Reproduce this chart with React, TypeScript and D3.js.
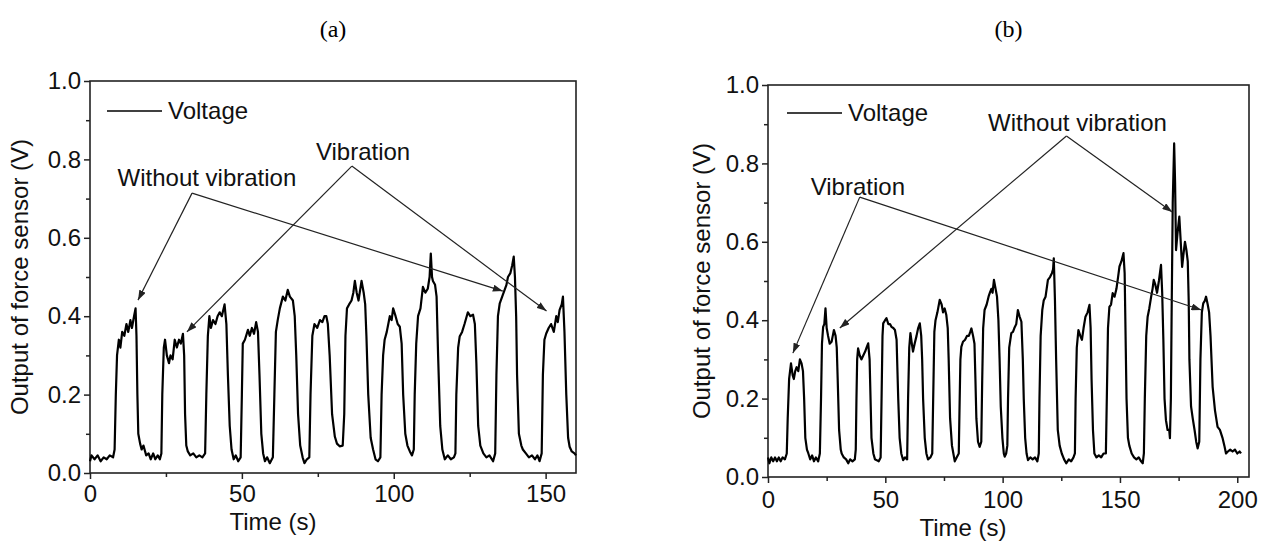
import React, { useEffect, useRef } from 'react';
import * as d3 from 'd3';

type Pt = [number, number];

// force sensor output, panel (a): [time s, voltage V]
const seriesA: Pt[] = [
  [0, 0.03], [0.5, 0.045], [1.5, 0.035], [2.5, 0.045], [3.5, 0.03], [4.5, 0.04], [5.5, 0.035], [6.5, 0.045], [7.6, 0.04],
  [8.1, 0.06], [8.5, 0.2], [8.9, 0.3], [9.5, 0.34], [10, 0.32], [10.6, 0.36], [11.3, 0.35], [12, 0.38], [12.6, 0.36], [13.3, 0.39], [13.8, 0.37], [14.5, 0.4], [15, 0.42], [15.3, 0.35], [15.6, 0.2], [15.9, 0.1], [16.5, 0.075], [17, 0.06], [17.6, 0.07], [18.5, 0.045], [19.3, 0.05], [20, 0.035], [20.8, 0.05], [21.5, 0.035], [22.3, 0.045], [23, 0.035], [23.5, 0.05],
  [23.8, 0.2], [24.3, 0.32], [24.7, 0.34], [25.3, 0.3], [26, 0.28], [26.5, 0.3], [27.2, 0.29], [27.9, 0.34], [28.6, 0.32], [29.3, 0.34], [29.9, 0.33], [30.6, 0.355], [31, 0.3], [31.3, 0.15], [31.7, 0.07], [32.2, 0.055], [33, 0.045], [34, 0.05], [35, 0.04], [36, 0.045], [37, 0.04], [37.9, 0.05],
  [38.3, 0.2], [38.8, 0.35], [39.3, 0.4], [39.8, 0.37], [40.5, 0.39], [41.3, 0.38], [42, 0.4], [42.7, 0.41], [43.4, 0.4], [44.3, 0.43], [44.9, 0.38], [45.4, 0.25], [46, 0.12], [46.6, 0.06], [47.3, 0.035], [48, 0.045], [48.8, 0.03], [49.6, 0.04],
  [50, 0.2], [50.3, 0.33], [51, 0.34], [52, 0.365], [52.6, 0.35], [53.3, 0.37], [54, 0.355], [54.7, 0.385], [55.3, 0.36], [55.8, 0.25], [56.4, 0.1], [57, 0.05], [57.6, 0.03], [58.3, 0.04], [59.2, 0.025], [60.2, 0.04],
  [60.7, 0.2], [61.2, 0.36], [61.8, 0.39], [62.5, 0.42], [63.5, 0.45], [64.3, 0.44], [65.1, 0.467], [65.8, 0.45], [66.8, 0.44], [67.4, 0.4], [67.9, 0.3], [68.5, 0.15], [69.2, 0.07], [70, 0.04], [70.6, 0.025], [71.4, 0.035], [72.2, 0.04],
  [72.6, 0.2], [73.2, 0.35], [73.9, 0.38], [74.8, 0.37], [75.7, 0.39], [76.5, 0.385], [77.2, 0.4], [77.8, 0.4], [78.3, 0.38], [78.9, 0.3], [79.7, 0.15], [80.6, 0.093], [81.3, 0.075], [82.2, 0.068], [83.2, 0.07], [83.7, 0.15],
  [84.1, 0.35], [84.6, 0.42], [85.3, 0.43], [86.1, 0.44], [86.7, 0.46], [87.2, 0.49], [87.8, 0.46], [88.4, 0.44], [89.4, 0.49], [90.1, 0.46], [90.6, 0.43], [91, 0.35], [91.6, 0.2], [92.4, 0.09], [93.2, 0.06], [94, 0.035], [94.8, 0.03], [95.6, 0.04],
  [96, 0.2], [96.5, 0.3], [97, 0.34], [97.7, 0.36], [98.7, 0.4], [99.3, 0.39], [99.8, 0.42], [100.6, 0.4], [101.3, 0.38], [102, 0.373], [102.6, 0.33], [103.1, 0.2], [103.8, 0.1], [104.5, 0.07], [105.3, 0.055], [106, 0.045], [106.6, 0.06],
  [106.9, 0.2], [107.4, 0.33], [108, 0.4], [108.8, 0.42], [109.6, 0.475], [110.4, 0.46], [111.2, 0.47], [111.8, 0.5], [112.2, 0.56], [112.6, 0.5], [112.9, 0.49], [113.6, 0.48], [114.1, 0.45], [114.6, 0.3], [115.3, 0.12], [116, 0.06], [116.8, 0.035], [117.8, 0.045], [118.8, 0.035], [119.8, 0.04], [120.3, 0.05],
  [120.6, 0.2], [121.2, 0.32], [121.7, 0.348], [122.5, 0.36], [123.3, 0.38], [124.4, 0.41], [125.2, 0.4], [126.1, 0.404], [126.7, 0.38], [127.2, 0.28], [127.8, 0.12], [128.5, 0.07], [129.5, 0.05], [130.5, 0.04], [131.5, 0.045], [132.7, 0.03], [133.4, 0.05],
  [133.8, 0.25], [134.3, 0.4], [134.9, 0.433], [135.7, 0.45], [136.5, 0.467], [137.1, 0.48], [137.6, 0.5], [138.4, 0.51], [139, 0.53], [139.5, 0.552], [139.9, 0.5], [140.3, 0.4], [140.6, 0.25], [141.2, 0.1], [142, 0.07], [142.5, 0.06], [143.5, 0.05], [144.5, 0.04], [145.5, 0.045], [146.5, 0.035], [147.3, 0.045], [148, 0.03], [148.7, 0.05],
  [149.1, 0.25], [149.6, 0.34], [150.2, 0.356], [151, 0.37], [151.8, 0.38], [152.7, 0.36], [153.5, 0.4], [154, 0.385], [154.6, 0.416], [155.3, 0.43], [155.7, 0.45], [156.2, 0.36], [156.8, 0.2], [157.4, 0.09], [157.9, 0.067], [158.6, 0.055], [159.5, 0.05], [160, 0.045],
];

// panel (b)
const seriesB: Pt[] = [
  [0, 0.05], [0.6, 0.035], [1.4, 0.05], [2.2, 0.04], [3, 0.05], [3.8, 0.04], [4.6, 0.05], [5.4, 0.04], [6.2, 0.05], [7.2, 0.045], [8, 0.06],
  [8.4, 0.15], [9, 0.25], [9.8, 0.29], [10.5, 0.26], [11, 0.25], [11.6, 0.27], [12.2, 0.28], [12.9, 0.27], [13.6, 0.3], [14.3, 0.29], [14.9, 0.27], [15.4, 0.2], [15.9, 0.1], [16.6, 0.07], [17.2, 0.06], [18, 0.045], [18.8, 0.055], [19.6, 0.04], [20.4, 0.05], [21.4, 0.04], [22.1, 0.06],
  [22.6, 0.2], [23, 0.34], [23.5, 0.383], [24, 0.39], [24.5, 0.43], [25, 0.38], [25.6, 0.36], [26.3, 0.34], [27.1, 0.345], [27.6, 0.36], [28.1, 0.375], [28.8, 0.36], [29.3, 0.33], [29.7, 0.25], [30.3, 0.12], [31, 0.07], [31.4, 0.06], [32.3, 0.05], [33.3, 0.045], [34.2, 0.035], [35, 0.045], [36, 0.04], [37, 0.045], [37.4, 0.07],
  [37.7, 0.2], [38, 0.3], [38.4, 0.328], [39.1, 0.31], [39.8, 0.3], [40.6, 0.31], [41.4, 0.32], [42, 0.33], [42.7, 0.341], [43.3, 0.3], [43.7, 0.2], [44.1, 0.1], [44.9, 0.06], [45.6, 0.045], [46.3, 0.043], [47.2, 0.04], [48, 0.05],
  [48.4, 0.2], [48.8, 0.36], [49.1, 0.392], [49.9, 0.4], [50.5, 0.405], [51.3, 0.39], [52, 0.39], [52.6, 0.383], [53.4, 0.38], [54.1, 0.375], [54.8, 0.35], [55.5, 0.2], [56.1, 0.1], [56.8, 0.06], [57.6, 0.043], [58.4, 0.05], [59.3, 0.045],
  [59.7, 0.2], [60.2, 0.33], [60.7, 0.367], [61.3, 0.34], [61.8, 0.32], [62.5, 0.34], [63.3, 0.36], [64, 0.38], [64.7, 0.392], [65.3, 0.36], [65.7, 0.3], [66.1, 0.2], [66.8, 0.1], [67.5, 0.06], [68.2, 0.045], [69.2, 0.05], [70, 0.06],
  [70.4, 0.2], [70.9, 0.37], [71.4, 0.4], [72.2, 0.42], [73.2, 0.452], [74, 0.44], [74.6, 0.42], [75.3, 0.43], [76, 0.413], [76.6, 0.38], [77, 0.3], [77.6, 0.15], [78.4, 0.08], [79, 0.06], [79.6, 0.04], [80.4, 0.05], [81.3, 0.06],
  [81.7, 0.2], [82, 0.3], [82.4, 0.332], [83.1, 0.345], [84, 0.35], [84.8, 0.36], [85.6, 0.36], [86.2, 0.37], [86.7, 0.379], [87.4, 0.36], [88, 0.34], [88.4, 0.25], [88.8, 0.15], [89.5, 0.09], [90.2, 0.077], [90.9, 0.09],
  [91.3, 0.25], [91.7, 0.38], [92.3, 0.426], [93.2, 0.44], [94, 0.46], [94.5, 0.469], [95.2, 0.48], [95.7, 0.47], [96.3, 0.503], [97, 0.48], [97.6, 0.46], [98.2, 0.4], [98.7, 0.3], [99.2, 0.18], [99.9, 0.1], [100.5, 0.06], [100.9, 0.052], [101.5, 0.06], [102, 0.08],
  [102.3, 0.2], [102.8, 0.33], [103.7, 0.367], [104.4, 0.37], [105, 0.38], [105.8, 0.39], [106.5, 0.426], [107.2, 0.41], [108, 0.396], [108.6, 0.3], [109, 0.2], [109.6, 0.1], [110.2, 0.06], [110.8, 0.043], [111.8, 0.05], [112.8, 0.045], [113.8, 0.05], [114.8, 0.04], [115.4, 0.06],
  [115.7, 0.2], [116.2, 0.36], [116.9, 0.426], [117.5, 0.45], [118.3, 0.46], [119.3, 0.503], [120.2, 0.51], [121, 0.52], [121.5, 0.53], [121.8, 0.558], [122.3, 0.45], [122.8, 0.3], [123.5, 0.12], [124.3, 0.08], [125.2, 0.06], [126.2, 0.045], [127.1, 0.035], [128.2, 0.045], [129.2, 0.04], [130.2, 0.05], [130.8, 0.06],
  [131.1, 0.2], [131.6, 0.33], [132.3, 0.375], [133.1, 0.36], [133.8, 0.35], [134.5, 0.38], [135.3, 0.409], [136.2, 0.42], [137, 0.439], [137.5, 0.38], [137.9, 0.25], [138.5, 0.12], [139.1, 0.06], [140, 0.05], [141, 0.055], [142, 0.05], [143, 0.06], [144, 0.06],
  [144.4, 0.2], [144.9, 0.38], [145.5, 0.434], [146.2, 0.44], [146.9, 0.469], [147.7, 0.46], [148.5, 0.48], [149.2, 0.51], [149.8, 0.537], [150.6, 0.55], [151.5, 0.571], [152, 0.52], [152.3, 0.4], [152.8, 0.2], [153.4, 0.1], [154, 0.08], [155, 0.06], [156, 0.05], [157, 0.045], [158, 0.05], [159, 0.04], [159.7, 0.035], [160.2, 0.06],
  [160.6, 0.2], [161.2, 0.36], [161.8, 0.409], [162.5, 0.43], [163.3, 0.46], [163.9, 0.48], [164.4, 0.503], [165.1, 0.49], [165.8, 0.47], [166.6, 0.5], [167.5, 0.541], [168, 0.47], [168.5, 0.35], [169, 0.2], [169.6, 0.145], [170.3, 0.12], [171, 0.12], [171.3, 0.099],
  [171.7, 0.2], [172, 0.4], [172.5, 0.7], [173.1, 0.851], [173.5, 0.75], [173.9, 0.579], [174.5, 0.62], [175.3, 0.664], [175.9, 0.6], [176.5, 0.536], [177.1, 0.57], [177.7, 0.6], [178.3, 0.58], [178.9, 0.55], [179.3, 0.45], [179.6, 0.3], [180.3, 0.18], [181, 0.15], [181.8, 0.12], [182.5, 0.09], [183.1, 0.073], [183.8, 0.09],
  [184.3, 0.3], [184.9, 0.42], [185.5, 0.443], [186.2, 0.45], [186.7, 0.46], [187.4, 0.44], [188, 0.42], [188.6, 0.36], [189.5, 0.23], [190.5, 0.17], [191.6, 0.128], [192.6, 0.12], [193.7, 0.1], [194.5, 0.08], [195.2, 0.06], [196, 0.065], [197, 0.07], [198, 0.065], [199, 0.07], [200, 0.06], [201, 0.065], [201.6, 0.06],
];

const xTicksA = [0, 50, 100, 150];
const xMinorA = [25, 75, 125];
const xTicksB = [0, 50, 100, 150, 200];
const xMinorB = [25, 75, 125, 175];
const yTicks = [0, 0.2, 0.4, 0.6, 0.8, 1.0];
const yMinor = [0.1, 0.3, 0.5, 0.7, 0.9];

// annotations: label position, apex of the arrows, arrow tips (data units)
const notesA = [
  { text: 'Without vibration', at: [38.5, 0.753], apex: [33.6, 0.714], ends: [[15.8, 0.441], [135.9, 0.464]] },
  { text: 'Vibration', at: [89.9, 0.821], apex: [86.2, 0.783], ends: [[31.9, 0.36], [150.3, 0.413]] },
];
const notesB = [
  { text: 'Vibration', at: [38.3, 0.74], apex: [39.1, 0.714], ends: [[10.6, 0.316], [184.7, 0.426]] },
  { text: 'Without vibration', at: [131.9, 0.903], apex: [127.2, 0.87], ends: [[30.6, 0.38], [172.3, 0.676]] },
];

const SANS = '"Liberation Sans", Arial, sans-serif';
const INK = '#222';

const Panel = props => {
  const xMajRef = useRef(null);
  const xMinRef = useRef(null);
  const yMajRef = useRef(null);
  const yMinRef = useRef(null);
  const { box } = props;

  const x = d3.scaleLinear().domain([0, props.xMax]).range([box.left, box.right]);
  const y = d3.scaleLinear().domain([0, 1]).range([box.bottom, box.top]);
  const line = d3
    .line<Pt>()
    .x(d => x(d[0]))
    .y(d => y(d[1]));

  useEffect(() => {
    const style = g => {
      g.select('.domain').remove();
      g.attr('font-family', SANS).attr('font-size', 24);
      g.selectAll('line').attr('stroke', INK).attr('stroke-width', 1.5);
      g.selectAll('text').attr('fill', '#111');
    };
    d3.select(xMajRef.current)
      .call(d3.axisBottom(x).tickValues(props.xTicks).tickSize(6).tickPadding(props.tickPad).tickFormat(d3.format('d')))
      .call(style);
    d3.select(xMinRef.current)
      .call(d3.axisBottom(x).tickValues(props.xMinor).tickSize(4).tickFormat(() => ''))
      .call(style);
    d3.select(yMajRef.current)
      .call(d3.axisLeft(y).tickValues(yTicks).tickSize(6).tickPadding(3).tickFormat(d3.format('.1f')))
      .call(style);
    d3.select(yMinRef.current)
      .call(d3.axisLeft(y).tickValues(yMinor).tickSize(4).tickFormat(() => ''))
      .call(style);
  }, [props, x, y]);

  return (
    <g>
      <text x={(box.left + box.right) / 2} y={37} textAnchor="middle"
        fontFamily='"Liberation Serif", "Times New Roman", serif' fontSize={24} fill="#000">
        {props.title}
      </text>
      <g ref={xMajRef} transform={`translate(0,${box.bottom})`} />
      <g ref={xMinRef} transform={`translate(0,${box.bottom})`} />
      <g ref={yMajRef} transform={`translate(${box.left},0)`} />
      <g ref={yMinRef} transform={`translate(${box.left},0)`} />
      <rect x={box.left} y={box.top} width={box.right - box.left} height={box.bottom - box.top}
        fill="none" stroke={INK} strokeWidth={1.6} />
      <path d={line(props.data)} fill="none" stroke="#000" strokeWidth={2.2} strokeLinejoin="round" />
      {props.notes.map(n => (
        <g key={n.text}>
          {n.ends.map((e, i) => (
            <line key={i} x1={x(n.apex[0])} y1={y(n.apex[1])} x2={x(e[0])} y2={y(e[1])}
              stroke={INK} strokeWidth={1.2} markerEnd="url(#arrow)" />
          ))}
          <text x={x(n.at[0])} y={y(n.at[1])} dy="0.35em" textAnchor="middle"
            fontFamily={SANS} fontSize={24} fill="#111">
            {n.text}
          </text>
        </g>
      ))}
      <line x1={props.legend[0]} x2={props.legend[0] + 55} y1={props.legend[1]} y2={props.legend[1]}
        stroke="#000" strokeWidth={1.6} />
      <text x={props.legend[0] + 61} y={props.legend[1] + 8} fontFamily={SANS} fontSize={24} fill="#111">
        Voltage
      </text>
      <text x={props.xLabel[0]} y={props.xLabel[1]} textAnchor="middle" fontFamily={SANS} fontSize={24} fill="#111">
        Time (s)
      </text>
      <text transform={`translate(${props.yLabel[0]},${props.yLabel[1]}) rotate(-90)`} dy="0.35em"
        textAnchor="middle" fontFamily={SANS} fontSize={24} fill="#111">
        Output of force sensor (V)
      </text>
    </g>
  );
};

const App = () => (
  <svg width={1262} height={544} style={{ position: 'absolute', left: 0, top: 0, background: '#fff' }}>
    <defs>
      <marker id="arrow" viewBox="0 0 10 7" refX={10} refY={3.5} markerWidth={10} markerHeight={7}
        markerUnits="userSpaceOnUse" orient="auto">
        <path d="M0,0 L10,3.5 L0,7 Z" fill={INK} />
      </marker>
    </defs>
    <Panel title="(a)" data={seriesA} xMax={160} xTicks={xTicksA} xMinor={xMinorA} notes={notesA}
      box={{ left: 90, right: 576, top: 81, bottom: 473 }} tickPad={6}
      legend={[107, 111]} xLabel={[273, 530]} yLabel={[20, 277]} />
    <Panel title="(b)" data={seriesB} xMax={205} xTicks={xTicksB} xMinor={xMinorB} notes={notesB}
      box={{ left: 768, right: 1249, top: 85, bottom: 477 }} tickPad={8}
      legend={[787, 113]} xLabel={[963, 536]} yLabel={[702, 281]} />
  </svg>
);

export default App;
